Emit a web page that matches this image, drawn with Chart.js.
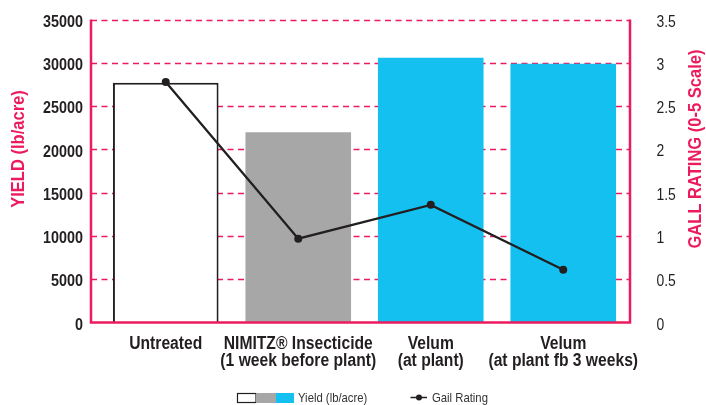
<!DOCTYPE html>
<html>
<head>
<meta charset="utf-8">
<script src="https://cdn.jsdelivr.net/npm/chart.js@4.4.1/dist/chart.umd.min.js"></script>
<style>
  html, body { margin: 0; padding: 0; background: #ffffff; }
  #wrap { width: 706px; height: 405px; }
</style>
</head>
<body>
<div id="wrap"><canvas id="c" width="706" height="405"></canvas></div>
<script>
// ---- data ----
const categories = [
  ["Untreated"],
  ["NIMITZ\u00AE Insecticide", "(1 week before plant)"],
  ["Velum", "(at plant)"],
  ["Velum", "(at plant fb 3 weeks)"]
];
const yieldValues = [27700, 22000, 30600, 29900];
const gallRating = [2.78, 0.97, 1.36, 0.61];
const yieldTicks = [0, 5000, 10000, 15000, 20000, 25000, 30000, 35000];
const gallTicks = [0, 0.5, 1, 1.5, 2, 2.5, 3, 3.5];
const seriesNames = ["Yield (lb/acre)", "Gail Rating"];
const axisTitles = ["YIELD (lb/acre)", "GALL RATING (0-5 Scale)"];

// ---- style ----
const PINK = '#ec1b5e';
const DARK = '#231f20';
const GRAY = '#a7a7a7';
const BLUE = '#13c0f0';
const FAM = "'Liberation Sans', Arial, sans-serif";
const SX = 0.87; // horizontal condensing of all text (condensed typeface look)

const canvas = document.getElementById('c');
const cctx = canvas.getContext('2d');
(function condense(ctx) {
  const P = CanvasRenderingContext2D.prototype;
  const of = P.fillText, om = P.measureText;
  ctx.fillText = function (t, x, y, mw) {
    this.save();
    this.translate(x, y);
    this.scale(SX, 1);
    of.call(this, t, 0, 0);
    this.restore();
  };
  ctx.measureText = function (t) {
    const m = om.call(this, t);
    return {
      width: m.width * SX,
      actualBoundingBoxAscent: m.actualBoundingBoxAscent,
      actualBoundingBoxDescent: m.actualBoundingBoxDescent,
      actualBoundingBoxLeft: m.actualBoundingBoxLeft * SX,
      actualBoundingBoxRight: m.actualBoundingBoxRight * SX,
      fontBoundingBoxAscent: m.fontBoundingBoxAscent,
      fontBoundingBoxDescent: m.fontBoundingBoxDescent
    };
  };
})(cctx);

const framePlugin = {
  id: 'frame',
  beforeDatasetsDraw(chart) {
    const ctx = chart.ctx, y = chart.scales.y, a = chart.chartArea;
    const L = a.left - 8.5, R = a.right + 0.5;
    ctx.save();
    ctx.strokeStyle = PINK;
    ctx.lineWidth = 1.3;
    ctx.setLineDash([6, 4.5]);
    yieldTicks.forEach(v => {
      if (v === 0) return;
      const py = Math.round(y.getPixelForValue(v)) + 0.5;
      ctx.beginPath(); ctx.moveTo(L, py); ctx.lineTo(R, py); ctx.stroke();
    });
    ctx.restore();
  },
  afterDatasetsDraw(chart) {
    const ctx = chart.ctx, y = chart.scales.y, a = chart.chartArea;
    const L = a.left - 8.5, R = a.right + 0.5;
    const top = y.getPixelForValue(yieldTicks[yieldTicks.length - 1]);
    const bot = y.getPixelForValue(0);
    ctx.save();
    ctx.strokeStyle = PINK;
    ctx.lineWidth = 2.5;
    ctx.beginPath();
    ctx.moveTo(L, top); ctx.lineTo(L, bot); ctx.lineTo(R, bot); ctx.lineTo(R, top);
    ctx.stroke();
    ctx.restore();
  },
  afterDraw(chart) {
    const ctx = chart.ctx;
    const midY = 149;
    [[19, axisTitles[0]], [696, axisTitles[1]]].forEach(([tx, txt]) => {
      ctx.save();
      ctx.fillStyle = PINK;
      ctx.font = "bold 19px " + FAM;
      ctx.textAlign = 'center';
      ctx.textBaseline = 'middle';
      ctx.translate(tx, midY); ctx.rotate(-Math.PI / 2);
      ctx.fillText(txt, 0, 0);
      ctx.restore();
    });

    // legend
    ctx.save();
    const ly = 393, lh = 10;
    ctx.fillStyle = '#ffffff';
    ctx.fillRect(237, ly, 19, lh);
    ctx.strokeStyle = DARK; ctx.lineWidth = 1.2;
    ctx.strokeRect(237.5, ly + 0.5, 18.5, lh - 1);
    ctx.fillStyle = GRAY; ctx.fillRect(256, ly, 20, lh);
    ctx.fillStyle = BLUE; ctx.fillRect(276, ly, 18, lh);
    ctx.fillStyle = '#333333';
    ctx.font = "13px " + FAM;
    ctx.textAlign = 'left';
    ctx.textBaseline = 'middle';
    ctx.fillText(seriesNames[0], 298, 398);
    ctx.strokeStyle = DARK; ctx.lineWidth = 1.5;
    ctx.beginPath(); ctx.moveTo(410.5, 397.5); ctx.lineTo(427, 397.5); ctx.stroke();
    ctx.fillStyle = DARK;
    ctx.beginPath(); ctx.arc(419, 397.5, 3, 0, Math.PI * 2); ctx.fill();
    ctx.fillStyle = '#333333';
    ctx.fillText(seriesNames[1], 432, 398);
    ctx.restore();
  }
};

new Chart(canvas, {
  data: {
    labels: categories,
    datasets: [
      {
        type: 'line',
        label: seriesNames[1],
        data: gallRating,
        yAxisID: 'y1',
        borderColor: DARK,
        backgroundColor: DARK,
        borderWidth: 2.3,
        pointRadius: 4,
        pointBackgroundColor: DARK,
        pointBorderWidth: 0,
        tension: 0,
        order: 0
      },
      {
        type: 'bar',
        label: seriesNames[0],
        data: yieldValues,
        yAxisID: 'y',
        backgroundColor: ['#ffffff', GRAY, BLUE, BLUE],
        borderColor: [DARK, GRAY, BLUE, BLUE],
        borderWidth: [2, 0, 0, 0],
        categoryPercentage: 1,
        barPercentage: 0.797,
        order: 1
      }
    ]
  },
  options: {
    responsive: false,
    animation: false,
    devicePixelRatio: 1,
    layout: { padding: { top: 19.6, left: 0, right: 0, bottom: 0 } },
    plugins: { legend: { display: false }, tooltip: { enabled: false } },
    scales: {
      x: {
        grid: { display: false, drawTicks: false },
        border: { display: false },
        ticks: {
          color: DARK,
          padding: 13,
          maxRotation: 0,
          autoSkip: false,
          font: { family: FAM, size: 18, weight: 'bold', lineHeight: '17px' }
        },
        afterFit(s) { s.height = 82.4; }
      },
      y: {
        position: 'left',
        min: 0, max: 35000,
        afterBuildTicks(s) { s.ticks = yieldTicks.map(v => ({ value: v })); },
        grid: { display: false, drawTicks: false },
        border: { display: false },
        ticks: {
          color: DARK,
          padding: 16.5,
          labelOffset: 2.5,
          font: { family: FAM, size: 16.5, weight: 'bold' },
          callback: v => String(v)
        },
        afterFit(s) { s.width = 99.5; s.paddingTop = 0; s.paddingBottom = 0; }
      },
      y1: {
        position: 'right',
        min: 0, max: 3.5,
        afterBuildTicks(s) { s.ticks = gallTicks.map(v => ({ value: v })); },
        grid: { display: false, drawTicks: false },
        border: { display: false },
        ticks: {
          color: DARK,
          padding: 27,
          labelOffset: 2.5,
          font: { family: FAM, size: 16 },
          callback: v => String(v)
        },
        afterFit(s) { s.width = 76.5; s.paddingTop = 0; s.paddingBottom = 0; }
      }
    }
  },
  plugins: [framePlugin]
});
</script>
</body>
</html>
